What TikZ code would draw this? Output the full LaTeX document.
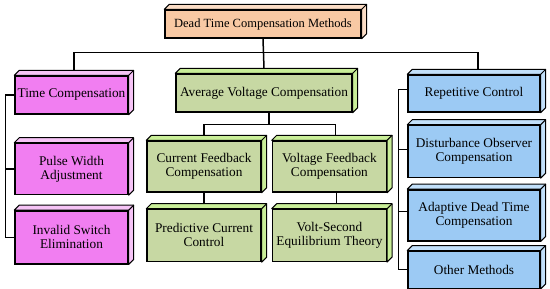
\documentclass[tikz,border=0pt]{standalone}
\usepackage{fontspec}
\setmainfont{Liberation Serif}
\usetikzlibrary{positioning,backgrounds}

\definecolor{naranja}{HTML}{F8C9A4}
\definecolor{naranjaclaro}{HTML}{FBDDC6}
\definecolor{rosa}{HTML}{F17EF1}
\definecolor{rosaclaro}{HTML}{F6C4F6}
\definecolor{verde}{HTML}{C7D8A3}
\definecolor{verdeclaro}{HTML}{C9EE98}
\definecolor{azul}{HTML}{9CCAF4}
\definecolor{azulclaro}{HTML}{C2E0FA}

\begin{document}
\begin{tikzpicture}[
font=\fontsize{13.3}{14}\selectfont,
caja/.style={
    draw,
    fill=#1,
    line width=1.4pt,
    align=center,
    inner sep=0pt,
    minimum height=51pt
},
cara/.style={
    draw,
    fill=#1,
    line width=1pt,
    line join=round
},
conector/.style={
    line width=1.5pt
}
]
\useasboundingbox (0,0) rectangle (550pt,-289pt);

% Nodo raiz
\node[caja=naranja, minimum width=196pt, minimum height=28pt,
    font=\fontsize{12.5}{14}\selectfont] (raiz) at (263pt,-24pt)
{Dead Time Compensation Methods};

% Rama izquierda
\node[caja=rosa, minimum width=113pt, minimum height=38pt] (tiempo) at (71.5pt,-95pt)
{Time Compensation};

\node[caja=rosa, minimum width=113pt, below=28pt of tiempo] (ancho) {
Pulse Width\\
Adjustment
};

\node[caja=rosa, minimum width=113pt, minimum height=53pt, below=15pt of ancho] (invalido) {
Invalid Switch\\
Elimination
};

% Rama central
\node[caja=verde, minimum width=176pt, minimum height=38pt] (promedio) at (264pt,-93pt)
{Average Voltage Compensation};

\node[caja=verde, minimum width=114pt] (corriente) at (204pt,-166.5pt) {
Current Feedback\\
Compensation
};

\node[caja=verde, minimum width=114pt, right=10pt of corriente] (tension) {
Voltage Feedback\\
Compensation
};

\node[caja=verde, minimum width=114pt, minimum height=52pt, below=16pt of corriente] (predictivo) {
Predictive Current\\
Control
};

\node[caja=verde, minimum width=114pt, minimum height=52pt, below=16pt of tension] (voltseg) {
Volt-Second\\
Equilibrium Theory
};

% Rama derecha
\node[caja=azul, minimum width=132pt, minimum height=37pt] (repetitivo) at (474pt,-93.5pt)
{Repetitive Control};

\node[caja=azul, minimum width=132pt, minimum height=52pt, below=12pt of repetitivo] (perturbacion) {
Disturbance Observer\\
Compensation
};

\node[caja=azul, minimum width=132pt, below=11pt of perturbacion] (adaptativo) {
Adaptive Dead Time\\
Compensation
};

\node[caja=azul, minimum width=132pt, minimum height=37pt, below=9pt of adaptativo] (otros)
{Other Methods};

% Caras superior y lateral
\begin{scope}[on background layer]
\foreach \n/\c in {raiz/naranjaclaro, tiempo/rosaclaro, ancho/rosaclaro, invalido/rosaclaro,
    promedio/verdeclaro, corriente/verdeclaro, tension/verdeclaro, predictivo/verdeclaro,
    voltseg/verdeclaro, repetitivo/azulclaro, perturbacion/azulclaro, adaptativo/azulclaro,
    otros/azulclaro}{
    \draw[cara=\c]
    (\n.north west) -- ++(5pt,5pt) -- ([shift={(5pt,5pt)}]\n.north east)
    -- ([shift={(5pt,5pt)}]\n.south east) -- (\n.south east) -- (\n.north east) -- cycle;
    \draw[cara=\c] (\n.north east) -- ++(5pt,5pt);
}
\end{scope}

% Conectores del primer nivel
\coordinate[below=14pt of raiz] (barra);

\draw[conector]
([shift={(2.5pt,5pt)}]tiempo.north) |- (barra) -| ([shift={(4pt,5pt)}]repetitivo.north);

\draw[conector]
(raiz.south) -- ([yshift=5pt]promedio.north);

% Conectores de la rama central
\coordinate[below=12pt of promedio.south, xshift=5pt] (subbarra);

\draw[conector]
([xshift=5pt]promedio.south) -- (subbarra);

\draw[conector]
([yshift=5pt]corriente.north) |- (subbarra) -| ([shift={(6pt,5pt)}]tension.north);

\draw[conector]
(corriente.south) -- ([yshift=5pt]corriente.south |- predictivo.north);

\draw[conector]
([xshift=7pt]tension.south) -- ([shift={(7pt,5pt)}]voltseg.north);

% Corchete izquierdo
\draw[conector]
(tiempo.west) -- ++(-9pt,0) |- (invalido.west);

\draw[conector]
(ancho.west) -- ++(-9pt,0);

% Corchete derecho
\draw[conector]
([yshift=4pt]repetitivo.west) -- ++(-9pt,0) |- (otros.west);

\draw[conector]
([yshift=2pt]perturbacion.west) -- ++(-9pt,0);

\draw[conector]
([yshift=4pt]adaptativo.west) -- ++(-9pt,0);

\end{tikzpicture}
\end{document}
